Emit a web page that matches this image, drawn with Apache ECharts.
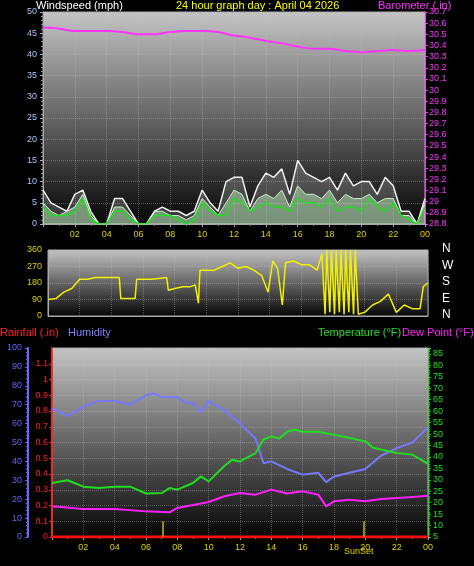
<!DOCTYPE html>
<html><head><meta charset="utf-8">
<script src="https://cdn.jsdelivr.net/npm/echarts@6/dist/echarts.min.js"></script>
<style>html,body{margin:0;background:#000}#c{width:474px;height:566px}</style>
</head><body><div id="c"></div>
<script>
// ---- data ----
const halfHours = [0,0.5,1,1.5,2,2.5,3,3.5,4,4.5,5,5.5,6,6.5,7,7.5,8,8.5,9,9.5,10,10.5,11,11.5,12,12.5,13,13.5,14,14.5,15,15.5,16,16.5,17,17.5,18,18.5,19,19.5,20,20.5,21,21.5,22,22.5,23,23.5,24];
const windGust = [8,5,4,3,7,8,3,0,0,6,6,3,0,0,3,4,3,3,2,3,8,5,3,10,11,11,4,9,12,11,13,7,15,12,11,10,11,8,12,9,10,10,7,11,9,3,3,0,6];
const windSpeed = [5,3,2,3,4,7,2,0,0,4,4,2,0,0,3,3,2,2,1,2,6,4,2,5,8,7,3,6,7,6,8,4,9,7,7,6,8,5,7,6,6,7,5,6,6,2,2,0,5];
const windAvg = [4,2,2,2,3,6,1,0,0,3,3,1,0,0,2,2,2,1,0,1,5,3,2,2,6,5,3,4,5,4,4,3,6,5,5,4,6,3,4,4,3,6,4,3,5,2,1,0,4];
const baroHours = [0,1,2,3,4,5,6,7,8,9,10,11,12,13,14,15,16,17,18,19,20,21,22,23,24];
const baro = [30.56,30.55,30.53,30.53,30.53,30.52,30.50,30.50,30.52,30.53,30.53,30.52,30.49,30.47,30.44,30.42,30.39,30.37,30.37,30.35,30.34,30.35,30.36,30.35,30.36];
const dirHours = [0,0.5,1,1.5,2,2.5,3,3.5,4,4.5,4.6,5,5.5,5.6,6,6.5,7,7.5,7.6,8,8.5,9,9.3,9.5,9.6,10,10.5,11,11.5,12,12.5,13,13.5,13.9,14.2,14.5,14.8,15,15.5,16,16.5,17,17.3,17.5,17.6,17.8,17.9,18.1,18.2,18.4,18.5,18.7,18.8,19.0,19.1,19.3,19.4,19.6,20,20.5,21,21.5,22,22.5,23,23.5,23.7,24];
const windDir = [90,95,130,150,200,200,210,210,210,210,95,95,95,200,200,200,205,210,140,150,160,160,170,70,250,250,250,270,290,260,270,250,220,130,300,260,60,290,300,280,280,250,340,10,360,20,360,10,360,20,360,10,360,20,360,10,360,10,20,60,80,120,20,60,40,40,160,180];
const humHours = [0,1,2,3,4,5,6,6.5,7,8,8.5,9,9.5,10,11,12,13,13.5,14,15,16,17,17.5,18,19,20,21,22,23,24];
const humidity = [68,64,69,72,72,70,75,76,74,74,71,71,66,72,67,60,52,39,40,36,33,34,29,32,34,36,43,47,50,58];
const tHours = [0,1,2,3,4,5,6,7,7.5,8,9,9.5,10,11,11.5,12,13,13.5,14,14.5,15,15.5,16,17,18,19,20,20.5,21,22,23,24];
const temperature = [28.6,29.8,27,26.4,27,27,24,24.2,26.4,25.7,28.6,31.5,29.3,36,38.8,38,41.7,47.6,49,48,51,52,51,51,49.7,48.3,46.8,44,43.2,41.7,41,37];
const dHours = [0,2,4,6,7.5,8,9,10,11,12,13,14,15,16,17,17.5,18,19,20,21,22,23,24];
const dewPoint = [18.4,17.2,17.2,16.2,15.8,17.7,19,20.3,22.8,24.2,23.5,25.7,24,25,23.5,18.4,20.6,21.3,20.6,21.6,22,22.5,23];
const rainHours = [0,24];
const rainfall = [0,0];
const eventHours = [7.1, 19.9];
const dirLabels = ['N','W','S','E','N'];

const zip = (a,b)=>a.map((x,i)=>[x,b[i]]);
const bg = {type:'linear',x:0,y:0,x2:0,y2:1,colorStops:[{offset:0,color:'#c4c4c4'},{offset:1,color:'#050505'}]};
const F = 'Liberation Sans, Arial, sans-serif';
const split = {show:true,lineStyle:{color:'rgba(200,200,200,0.35)',type:'dotted'}};
const hourLabel = v => v===0 ? '' : (v===24 ? '00' : String(v).padStart(2,'0'));
function xAxis(grid, show){
  return {type:'value',gridIndex:grid,min:0,max:24,interval:2,
    axisLabel:{show:show,color:'#e0d000',fontSize:9,fontFamily:F,formatter:hourLabel,margin:6},
    axisLine:{show:true,lineStyle:{color:'#aaa'}},axisTick:{show:show,lineStyle:{color:'#aaa'},length:3},
    minorTick:{show:show,splitNumber:2,length:2,lineStyle:{color:'#888'}},splitLine:split};
}
const chart = echarts.init(document.getElementById('c'));
chart.setOption({
  backgroundColor:'#000',animation:false,
  textStyle:{fontFamily:F},
  graphic:[
    {type:'text',left:36,top:0,style:{text:'Windspeed (mph)',fill:'#fff',font:'11px '+F}},
    {type:'text',left:176,top:0,style:{text:'24 hour graph day : April 04 2026',fill:'#ffff00',font:'11px '+F}},
    {type:'text',left:378,top:0,style:{text:'Barometer (.in)',fill:'#ff33ff',font:'11px '+F}},
    {type:'text',left:0,top:327,style:{text:'Rainfall (.in)',fill:'#ff2020',font:'11px '+F}},
    {type:'text',left:68,top:327,style:{text:'Humidity',fill:'#8080ff',font:'11px '+F}},
    {type:'text',left:318,top:327,style:{text:'Temperature (°F)',fill:'#20e020',font:'11px '+F}},
    {type:'text',left:402,top:327,style:{text:'Dew Point (°F)',fill:'#ff20ff',font:'11px '+F}},
    {type:'text',left:344,top:547,style:{text:'SunSet',fill:'#e0d000',font:'9px '+F}},
    ...dirLabels.map((t,i)=>({type:'text',left:442,top:243+i*16.5,style:{text:t,fill:'#fff',font:'12px '+F}}))
  ],
  grid:[
    {left:43,right:49,top:12,height:212,show:true,backgroundColor:bg,borderColor:'#aaa'},
    {left:48,right:46,top:250,height:66,show:true,backgroundColor:bg,borderColor:'#aaa'},
    {left:52,right:46,top:348,height:189,show:true,backgroundColor:bg,borderColor:'#aaa'}
  ],
  xAxis:[xAxis(0,true),xAxis(1,false),xAxis(2,true)],
  yAxis:[
    {type:'value',gridIndex:0,min:0,max:50,interval:5,axisLabel:{color:'#a8c8ff',fontSize:9,margin:6},
      axisLine:{show:true,lineStyle:{color:'#aaa'}},axisTick:{show:true,length:3,lineStyle:{color:'#aaa'}},
      minorTick:{show:true,splitNumber:5,length:2,lineStyle:{color:'#888'}},splitLine:split},
    {type:'value',gridIndex:0,position:'right',min:28.8,max:30.7,interval:0.1,
      axisLabel:{color:'#ff33ff',fontSize:9,margin:4,formatter:v=>String(+v.toFixed(1))},
      axisLine:{show:true,lineStyle:{color:'#ff33ff'}},axisTick:{show:true,length:3,lineStyle:{color:'#ff33ff'}},splitLine:{show:false}},
    {type:'value',gridIndex:1,min:0,max:360,interval:90,axisLabel:{color:'#e0d000',fontSize:9,margin:6},
      axisLine:{show:true,lineStyle:{color:'#aaa'}},axisTick:{show:false},splitLine:split},
    {type:'value',gridIndex:2,position:'left',min:0,max:1.2,interval:0.1,
      axisLabel:{color:'#ff2020',fontSize:9,margin:4,showMaxLabel:false,formatter:v=>String(+v.toFixed(1))},
      axisLine:{show:true,lineStyle:{color:'#ff2020',type:'dotted',width:2}},axisTick:{show:true,length:3,lineStyle:{color:'#ff2020'}},splitLine:split},
    {type:'value',gridIndex:2,position:'left',min:0,max:100,interval:10,offset:24,
      axisLabel:{color:'#6666ff',fontSize:9,margin:6},
      axisLine:{show:true,lineStyle:{color:'#6666ff',width:2}},axisTick:{show:true,length:3,lineStyle:{color:'#6666ff'}},
      minorTick:{show:true,splitNumber:5,length:2,lineStyle:{color:'#6666ff'}},splitLine:{show:false}},
    {type:'value',gridIndex:2,position:'right',min:5,max:87.6,interval:5,
      axisLabel:{color:'#20e020',fontSize:9,margin:5,showMaxLabel:false},
      axisLine:{show:true,lineStyle:{color:'#20e020'}},axisTick:{show:true,length:3,lineStyle:{color:'#20e020'}},
      minorTick:{show:true,splitNumber:5,length:2,lineStyle:{color:'#20e020'}},splitLine:{show:false}}
  ],
  series:[
    {type:'line',xAxisIndex:0,yAxisIndex:0,data:zip(halfHours,windGust),symbol:'none',
      lineStyle:{color:'#f0f0f0',width:1.5},areaStyle:{color:'rgba(230,230,230,0.3)'}},
    {type:'line',xAxisIndex:0,yAxisIndex:0,data:zip(halfHours,windSpeed),symbol:'none',
      lineStyle:{color:'#c8f0c8',width:1},areaStyle:{color:'rgba(190,240,190,0.7)'}},
    {type:'line',xAxisIndex:0,yAxisIndex:0,data:zip(halfHours,windAvg),symbol:'none',
      lineStyle:{color:'#20dd20',width:1.5}},
    {type:'line',xAxisIndex:0,yAxisIndex:1,data:zip(baroHours,baro),symbol:'none',smooth:0.3,
      lineStyle:{color:'#ff33ff',width:2}},
    {type:'line',xAxisIndex:1,yAxisIndex:2,data:zip(dirHours,windDir),symbol:'none',
      lineStyle:{color:'#f0f000',width:1.5}},
    {type:'line',xAxisIndex:2,yAxisIndex:3,data:zip(rainHours,rainfall),symbol:'none',
      lineStyle:{color:'#ff1010',width:3},
      markLine:{symbol:'none',silent:true,label:{show:false},lineStyle:{color:'#c8b400',type:'solid',width:1.5},
        data:eventHours.map(h=>[{coord:[h,0]},{coord:[h,0.1]}])}},
    {type:'line',xAxisIndex:2,yAxisIndex:4,data:zip(humHours,humidity),symbol:'none',
      lineStyle:{color:'#7878ff',width:2}},
    {type:'line',xAxisIndex:2,yAxisIndex:5,data:zip(tHours,temperature),symbol:'none',
      lineStyle:{color:'#20dd20',width:2}},
    {type:'line',xAxisIndex:2,yAxisIndex:5,data:zip(dHours,dewPoint),symbol:'none',
      lineStyle:{color:'#ff20ff',width:2}}
  ]
});
</script></body></html>
